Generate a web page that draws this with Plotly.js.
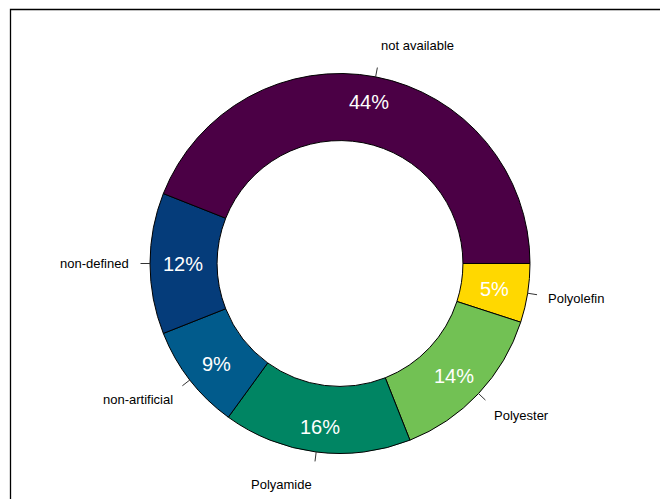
<!DOCTYPE html>
<html>
<head>
<meta charset="utf-8">
<script src="https://cdn.plot.ly/plotly-3.0.1.min.js"></script>
<style>html,body{margin:0;padding:0;background:#fff;}#chart{width:660px;height:499px;}</style>
</head>
<body>
<div id="chart"></div>
<script>
// Data (clockwise from 3 o'clock)
const categories = ["Polyolefin", "Polyester", "Polyamide", "non-artificial", "non-defined", "not available"];
const shares = [5, 14, 16, 9, 12, 44];
const colors = ["#FFD800", "#72C154", "#008563", "#015B8C", "#053C7A", "#4B0045"];

const W = 660, H = 499;
const cx = 340, cy = 263.5, R = 190;
const hole = 0.647;
const fontFam = "Arial, 'Liberation Sans', sans-serif";

const total = shares.reduce((a, b) => a + b, 0);
const annotations = [];
const shapes = [];
const toPx = (px, py) => [px / W, 1 - py / H];
let cum = 0;
shares.forEach((v, i) => {
  const mid = (cum + v / 2) / total * 2 * Math.PI; // clockwise from 3 o'clock
  cum += v;
  const c = Math.cos(mid), s = Math.sin(mid);
  const [ax0, ay0] = toPx(cx + R * c, cy + R * s);
  const [ax1, ay1] = toPx(cx + 1.05 * R * c, cy + 1.05 * R * s);
  shapes.push({type: "line", xref: "paper", yref: "paper", x0: ax0, y0: ay0, x1: ax1, y1: ay1,
    line: {color: "#333", width: 1}});
  const [lx, ly] = toPx(cx + 1.1 * R * c, cy + 1.17 * R * s);
  annotations.push({xref: "paper", yref: "paper", x: lx, y: ly, text: categories[i], showarrow: false,
    xanchor: c < -1e-6 ? "right" : "left", yanchor: "middle",
    font: {family: fontFam, size: 13, color: "#000"}});
  const [px, py] = toPx(cx + 0.825 * R * c, cy + 0.865 * R * s);
  annotations.push({xref: "paper", yref: "paper", x: px, y: py, text: v + "%", showarrow: false,
    xanchor: "center", yanchor: "middle",
    font: {family: fontFam, size: 20, color: "#fff"}});
});
// outer frame
shapes.push({type: "rect", xref: "paper", yref: "paper", x0: 10.5 / W, x1: 1.05, y0: -0.05, y1: 1 - 9.5 / H,
  line: {color: "#000", width: 1.3}, fillcolor: "rgba(0,0,0,0)"});

const trace = {
  type: "pie",
  labels: categories,
  values: shares,
  sort: false,
  direction: "clockwise",
  rotation: 90,
  hole: hole,
  marker: {colors: colors, line: {color: "#000", width: 1}},
  textinfo: "none",
  showlegend: false,
  domain: {x: [(cx - R) / W, (cx + R) / W], y: [1 - (cy + R) / H, 1 - (cy - R) / H]}
};

Plotly.newPlot("chart", [trace], {
  width: W, height: H,
  margin: {l: 0, r: 0, t: 0, b: 0},
  paper_bgcolor: "#fff",
  showlegend: false,
  annotations: annotations,
  shapes: shapes
}, {displayModeBar: false, staticPlot: true});
</script>
</body>
</html>
